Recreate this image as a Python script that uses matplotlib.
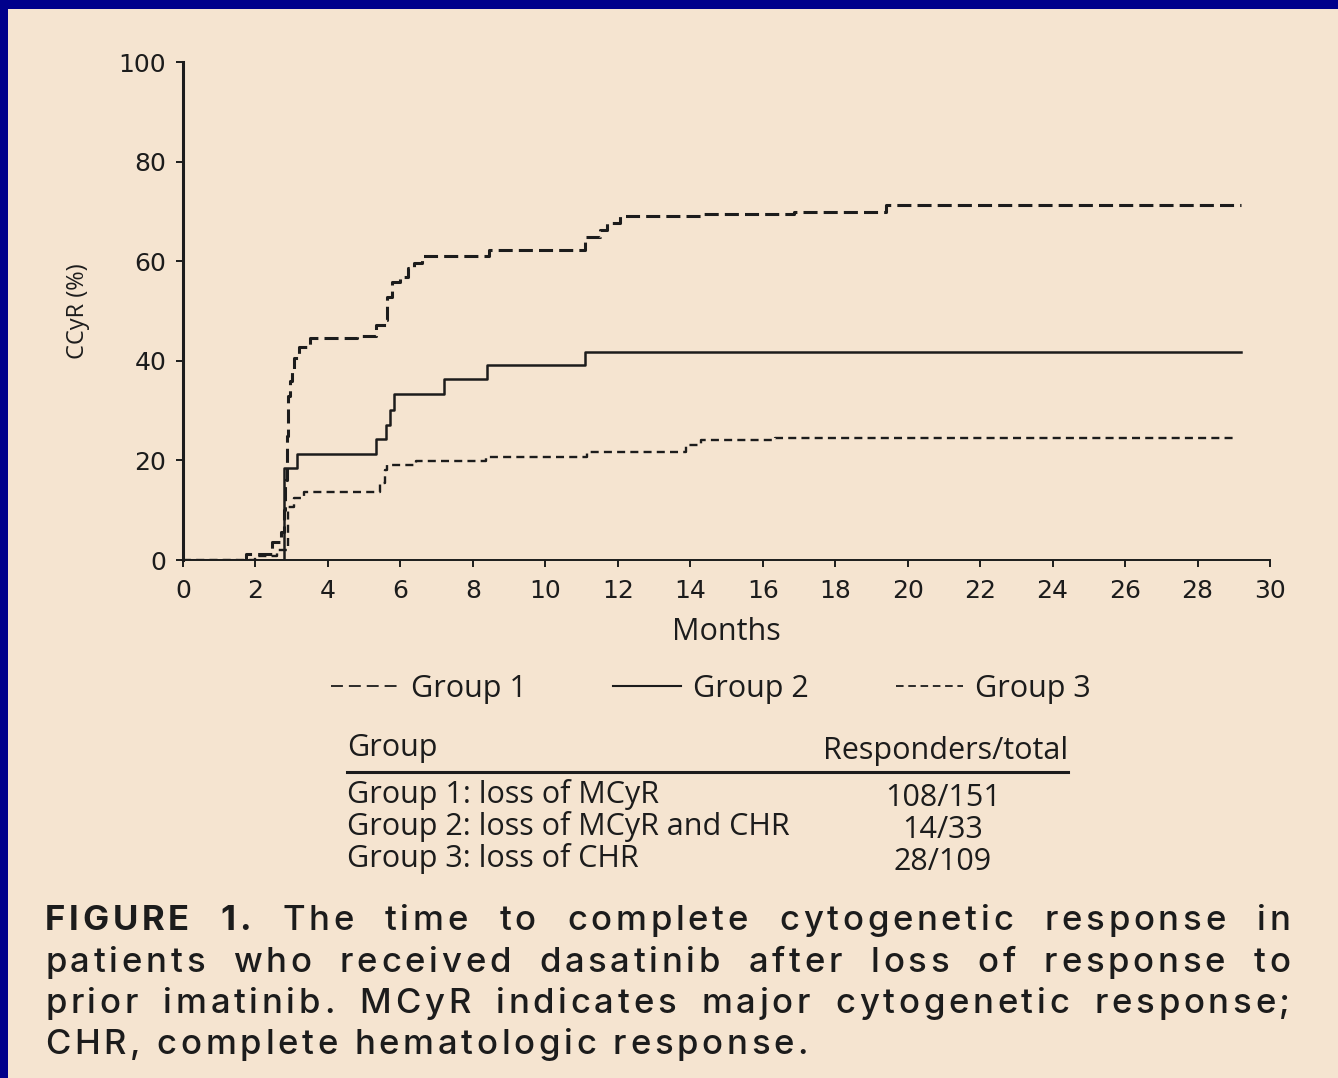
import matplotlib.pyplot as plt
from matplotlib.lines import Line2D
from matplotlib.patches import Rectangle
from matplotlib.font_manager import FontProperties

# Figure parameters:
fig_w_px, fig_h_px = 1338, 1078
fig_dpi = 100
bg_color = '#F5E4D0'
frame_color = '#00008B'
ink = '#1c1c1c'
plt.rcParams['font.family'] = ['Open Sans', 'DejaVu Sans']

# Cumulative CCyR (%) by month, step curves:
g1_months = [0, 1.75, 2.45, 2.7, 2.78, 2.82, 2.86, 2.9, 2.95, 3.0, 3.07,
             3.2, 3.5, 4.8, 5.32, 5.6, 5.64, 5.78, 6.0, 6.2, 6.38, 6.6,
             8.44, 11.1, 11.5, 11.7, 12.07, 14.3, 16.85, 19.4, 29.2]
g1_ccyr = [0, 1.3, 3.7, 5.7, 10, 16, 25, 33, 36, 38, 40.5,
           42.8, 44.5, 45.0, 47.2, 48.2, 52.9, 55.9, 56.9, 58.6, 59.6, 61.0,
           62.2, 64.9, 66.3, 67.7, 69.1, 69.5, 69.8, 71.2, 71.2]

g2_months = [0, 2.78, 3.16, 5.32, 5.6, 5.72, 5.83, 7.2, 8.38, 11.1, 29.2]
g2_ccyr = [0, 18.5, 21.3, 24.2, 27.1, 30.1, 33.3, 36.3, 39.2, 41.8, 41.8]

g3_months = [0, 2.0, 2.6, 2.9, 3.07, 3.35, 5.43, 5.57, 5.64, 6.42, 8.35,
             11.16, 13.87, 14.3, 16.35, 29.0]
g3_ccyr = [0, 0.8, 2.0, 10.7, 12.4, 13.7, 15.4, 18.1, 19.1, 19.9, 20.6,
           21.6, 23.1, 24.1, 24.5, 24.5]

group_labels = ['Group 1', 'Group 2', 'Group 3']
x_ticks = list(range(0, 31, 2))
y_ticks = [0, 20, 40, 60, 80, 100]

# Summary table:
table_header = ['Group', 'Responders/total']
table_groups = ['Group 1: loss of MCyR',
                'Group 2: loss of MCyR and CHR',
                'Group 3: loss of CHR']
responders = [108, 14, 28]
totals = [151, 33, 109]

caption_lines = [
    'FIGURE 1. The time to complete cytogenetic response in',
    'patients who received dasatinib after loss of response to',
    'prior imatinib. MCyR indicates major cytogenetic response;',
    'CHR, complete hematologic response.',
]

fig = plt.figure(figsize=(fig_w_px / fig_dpi, fig_h_px / fig_dpi),
                 dpi=fig_dpi, facecolor=bg_color)

# Blue frame strips along the top and left edges:
fig.add_artist(Rectangle((0, 0), 8 / fig_w_px, 1, transform=fig.transFigure,
                         color=frame_color, lw=0))
fig.add_artist(Rectangle((0, 1 - 9 / fig_h_px), 1, 9 / fig_h_px,
                         transform=fig.transFigure, color=frame_color, lw=0))


def fx(px):
    return px / fig_w_px


def fy(py):
    return 1 - py / fig_h_px


# Main axes:
ax = fig.add_axes([fx(183), fy(560), fx(1270) - fx(183), fy(62) - fy(560)])
ax.set_facecolor('none')

g1_style = (0, (4.6, 2.0))
g3_style = (0, (3.4, 2.2))
ax.step(g1_months, g1_ccyr, where='post', color=ink, lw=2.2,
        linestyle=g1_style)
ax.step(g2_months, g2_ccyr, where='post', color=ink, lw=1.8)
ax.step(g3_months, g3_ccyr, where='post', color=ink, lw=1.7,
        linestyle=g3_style)

ax.set_xlim(0, 30)
ax.set_ylim(0, 100)
ax.set_xticks(x_ticks)
ax.set_yticks(y_ticks)
for side in ['top', 'right']:
    ax.spines[side].set_visible(False)
ax.spines['left'].set_linewidth(2.2)
ax.spines['bottom'].set_linewidth(1.4)
for side in ['left', 'bottom']:
    ax.spines[side].set_color(ink)
ax.tick_params(axis='both', direction='out', length=5, width=1.4,
               color=ink, labelcolor=ink, labelsize=18, pad=7)
ax.tick_params(axis='x', pad=9)
for lbl in ax.get_xticklabels() + ax.get_yticklabels():
    lbl.set_fontfamily('DejaVu Sans')
ax.set_xlabel('Months', fontsize=22, color=ink, labelpad=10)
ax.set_ylabel('CCyR (%)', fontsize=17, color=ink)
ax.yaxis.set_label_coords(-0.086, 0.5)

# Legend below the axes:
handles = [Line2D([], [], color=ink, lw=1.3, linestyle=(0, (6.6, 3.3))),
           Line2D([], [], color=ink, lw=1.5),
           Line2D([], [], color=ink, lw=1.3, linestyle=(0, (4.2, 2.6)))]
fig.legend(handles, group_labels, loc='center', bbox_to_anchor=(fx(711), fy(689)),
           ncol=3, frameon=False, prop={'size': 22}, labelcolor=ink,
           handlelength=2.2, handletextpad=0.4, columnspacing=2.85)

# Table of responders:
tbl_left, tbl_right, tbl_num_x = 347, 1068, 943
tbl_size = 22
fig.text(fx(tbl_left), fy(748), table_header[0], fontsize=tbl_size, color=ink,
         ha='left', va='center')
fig.text(fx(tbl_right), fy(751), table_header[1], fontsize=tbl_size,
         color=ink, ha='right', va='center')
fig.add_artist(Line2D([fx(tbl_left), fx(tbl_right)], [fy(772), fy(772)],
                      transform=fig.transFigure, color=ink, lw=2.2))
row_y = [795, 827, 859]
for name, n_resp, n_tot, py in zip(table_groups, responders, totals, row_y):
    fig.text(fx(tbl_left), fy(py), name, fontsize=tbl_size, color=ink,
             ha='left', va='center')
    fig.text(fx(tbl_num_x), fy(py + 3), f'{n_resp}/{n_tot}',
             fontsize=tbl_size, color=ink, ha='center', va='center')

# Caption, letter-spaced and justified:
renderer = fig.canvas.get_renderer()
fp_reg = FontProperties(family='Inter', size=25, weight='medium')
fp_bold = FontProperties(family='Inter', size=25, weight='bold')
cap_left, cap_right = 45, 1290
cap_baselines = [930, 972, 1013, 1054]


def char_w(ch, fp):
    w, _, _ = renderer.get_text_width_height_descent(ch, fp, ismath=False)
    return w


space_w = char_w(' ', fp_reg)
last = caption_lines[-1]
natural = sum(space_w if c == ' ' else char_w(c, fp_reg) for c in last)
tracking = (808 - cap_left - natural) / (len(last) - 1)

for i, (line, base) in enumerate(zip(caption_lines, cap_baselines)):
    words = line.split(' ')
    fps = [fp_bold if (i == 0 and j < 2) else fp_reg
           for j in range(len(words))]
    widths = [sum(char_w(c, f) for c in w) + tracking * (len(w) - 1)
              for w, f in zip(words, fps)]
    if i < len(caption_lines) - 1:
        gap = (cap_right - cap_left - sum(widths)) / (len(words) - 1)
    else:
        gap = space_w + 2 * tracking
    x = cap_left
    for w, f, ww in zip(words, fps, widths):
        cx = x
        for c in w:
            fig.text(fx(cx), fy(base), c, fontproperties=f, color=ink,
                     ha='left', va='baseline')
            cx += char_w(c, f) + tracking
        x += ww + gap

fig.savefig('out.png', dpi=fig_dpi, facecolor=bg_color)
